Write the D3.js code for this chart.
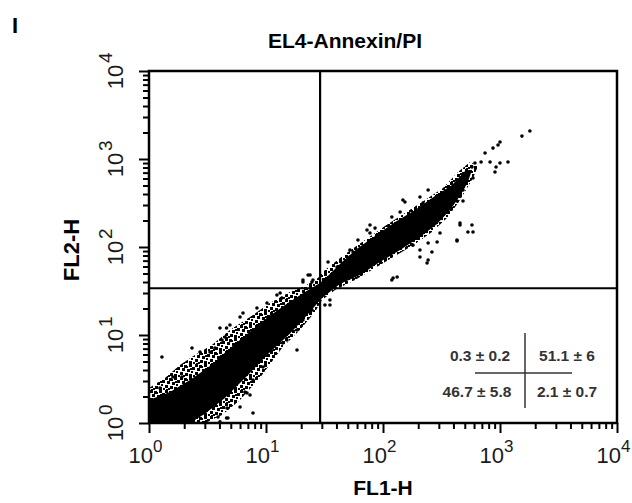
<!DOCTYPE html>
<html>
<head>
<meta charset="utf-8">
<script src="https://cdn.jsdelivr.net/npm/d3@7"></script>
<style>
  body { margin: 0; background: #fff; }
  svg { display: block; }
</style>
</head>
<body>
<div id="chart"></div>
<script>
// log axis decades (10^0 .. 10^4)
const decades = [0, 1, 2, 3, 4];

// quadrant gates
const gateFL1 = 29;
const gateFL2 = 34;

// quadrant statistics (UL, UR, LL, LR)
const quadMean = ["0.3", "51.1", "46.7", "2.1"];
const quadSD = ["0.2", "6", "5.8", "0.7"];

// outline of the whole event cloud (FL1-H, FL2-H)
const envelopeFL1 = [1, 3.01, 4.21, 6.00, 9.25, 13.7, 19.5, 26.2, 30.1, 38.9, 57.6, 85.5, 127, 188, 262, 352, 438, 512, 588, 649,
  555, 438, 326, 229, 154, 104, 70.2, 50.2, 38.9, 31.9, 27.8, 21.5, 16.0, 10.8, 7.30, 4.92, 3.45, 2.47, 1.84, 1.37, 1];
const envelopeFL2 = [1, 1, 1.23, 1.82, 3.51, 7.11, 11.4, 18.3, 25.0, 32.5, 42.2, 57.7, 79.0, 108, 148, 214, 316, 445, 608, 832,
  925, 711, 468, 342, 243, 173, 120, 87.7, 67.6, 54.8, 44.4, 36.0, 30.8, 23.1, 16.0, 11.4, 7.70, 5.93, 4.56, 3.25, 2.50];

// outline of the dense core
const coreFL1 = [1, 2.24, 3.01, 4.46, 7.02, 10.4, 16.0, 22.9, 30.1, 42.9, 63.6, 94.2, 140, 207, 290, 374, 455, 532, 576,
  512, 389, 278, 188, 127, 85.5, 61.1, 44.6, 35.2, 29.0, 21.5, 15.4, 10.4, 7.02, 4.73, 3.32, 2.24, 1.51, 1];
const coreFL2 = [1, 1, 1.27, 1.92, 3.51, 6.08, 10.3, 17.3, 26.3, 38.0, 48.1, 67.6, 92.4, 130, 183, 263, 380, 548, 750,
  750, 507, 380, 263, 192, 133, 97.5, 67.6, 49.3, 39.0, 30.8, 23.1, 16.0, 10.5, 6.76, 4.44, 3.08, 2.25, 1.82];

const events = [
  [1.29, 5.62], [2.33, 7.11], [2.73, 6.41], [3.66, 7.11], [1.60, 3.33], [4.46, 9.49], [6.88, 2.19], [7.30, 2.08],
  [4.73, 1.14], [4.04, 1.03], [4.6, 1.14], [4.04, 12.0], [4.6, 12.0], [6.00, 16.0], [6.36, 17.8], [9.43, 4.33],
  [6.6, 2.25], [4.64, 1.48], [3.89, 1.17], [13.2, 30.0], [13.7, 26.3], [20.7, 42.2], [23.8, 48.1], [35.2, 25.0],
  [35.2, 21.9], [15.1, 8.77], [18.4, 6.76], [1.91, 3.33], [1.24, 2.50], [6.00, 1.52], [7.74, 1.30], [3.32, 6.41],
  [4.21, 8.77], [4.92, 13.0], [8.37, 20.3], [10.2, 23.1], [12.4, 28.5], [7.74, 3.08], [10.8, 6.76], [13.9, 8.11],
  [18.4, 11.4], [20.7, 14.8], [24.7, 19.2],
  [22.9, 48.1], [20.7, 40.0], [24.7, 40.0], [25.2, 42.2], [33.9, 67.6], [40.5, 59.3], [52.2, 76.9], [55.4, 71.1],
  [45.5, 52.0], [31.9, 21.9],
  [54.3, 52.0], [59.9, 76.9], [52.2, 92.4], [55.4, 87.7], [61.1, 120], [73.0, 156], [77.4, 178], [85.5, 164],
  [77.4, 144], [100, 148], [119, 219], [140, 250], [154, 325], [148, 342], [207, 370], [243, 445], [220, 316],
  [122, 44.4], [132, 45.6], [119, 42.2], [207, 76.9], [243, 71.1], [238, 65.8], [207, 92.4], [180, 105],
  [243, 111], [290, 114], [262, 87.7], [307, 144], [429, 120], [455, 187], [455, 178], [532, 148], [588, 148],
  [576, 178], [429, 117],
  [1800, 2080], [1540, 1820], [1000, 1560], [962, 1440], [871, 1330], [745, 1170], [689, 925], [822, 925],
  [1000, 901], [1170, 925], [925, 811], [906, 711], [611, 901], [576, 811], [522, 693], [588, 608], [483, 445],
  [483, 333], [429, 333]
];

const width = 632, height = 503;
const margin = {top: 71, right: 15, bottom: 80, left: 149};
const font = "'Liberation Sans', Arial, sans-serif";

const x = d3.scaleLog().domain([1, 1e4]).range([margin.left, width - margin.right]);
const y = d3.scaleLog().domain([1, 1e4]).range([height - margin.bottom, margin.top]);

const svg = d3.select("#chart").append("svg")
    .attr("width", width)
    .attr("height", height);

const defs = svg.append("defs");
defs.append("clipPath").attr("id", "plotClip")
  .append("rect")
    .attr("x", x.range()[0]).attr("y", y.range()[1])
    .attr("width", x.range()[1] - x.range()[0])
    .attr("height", y.range()[0] - y.range()[1]);

// speckled texture for the loose part of the cloud
const speckle = defs.append("pattern")
    .attr("id", "speckle")
    .attr("width", 15).attr("height", 13)
    .attr("patternUnits", "userSpaceOnUse");
[[0, 0, 3], [4, 1, 3], [9, 0, 3], [12, 3, 3], [2, 4, 3], [7, 5, 3], [11, 7, 2], [0, 8, 3], [5, 9, 3],
 [9, 10, 3], [13, 11, 2], [3, 11, 2], [6, 2, 2], [10, 4, 2], [1, 12, 2]].forEach(([a, b, s]) => {
  speckle.append("rect").attr("x", a).attr("y", b).attr("width", s).attr("height", s).attr("fill", "#000");
});

const outline = d3.line()
    .x(d => x(d[0]))
    .y(d => y(d[1]))
    .curve(d3.curveLinearClosed);

const cloud = svg.append("g").attr("clip-path", "url(#plotClip)");

cloud.append("path")
    .attr("d", outline(d3.zip(envelopeFL1, envelopeFL2)))
    .attr("fill", "url(#speckle)");

cloud.append("path")
    .attr("d", outline(d3.zip(coreFL1, coreFL2)))
    .attr("fill", "#000");

cloud.selectAll("circle")
  .data(events)
  .enter().append("circle")
    .attr("cx", d => x(d[0]))
    .attr("cy", d => y(d[1]))
    .attr("r", 1.8)
    .attr("fill", "#000");

// ticks
const minorTicks = [];
decades.slice(0, -1).forEach(e => {
  for (let m = 2; m <= 9; m++) minorTicks.push(m * Math.pow(10, e));
});
const majorTicks = decades.map(e => Math.pow(10, e));

function styleAxis(g) {
  g.select(".domain").remove();
  g.selectAll(".tick line").attr("stroke", "#000").attr("stroke-width", 2);
}

const yPos = height - margin.bottom;
svg.append("g").attr("transform", `translate(0,${yPos})`)
    .call(d3.axisBottom(x).tickValues(minorTicks).tickSize(6).tickFormat(""))
    .call(styleAxis);
svg.append("g").attr("transform", `translate(0,${yPos})`)
    .call(d3.axisBottom(x).tickValues(majorTicks).tickSize(10).tickFormat(""))
    .call(styleAxis);
svg.append("g").attr("transform", `translate(${margin.left},0)`)
    .call(d3.axisLeft(y).tickValues(minorTicks).tickSize(6).tickFormat(""))
    .call(styleAxis);
svg.append("g").attr("transform", `translate(${margin.left},0)`)
    .call(d3.axisLeft(y).tickValues(majorTicks).tickSize(10).tickFormat(""))
    .call(styleAxis);

// tick labels 10^n
const xLab = svg.append("g").attr("font-family", font).attr("fill", "#1a1a1a");
decades.forEach(e => {
  const px = x(Math.pow(10, e));
  xLab.append("text").attr("x", px + 4).attr("y", yPos + 40)
      .attr("text-anchor", "end").attr("font-size", 22).text("10");
  xLab.append("text").attr("x", px + 4).attr("y", yPos + 29)
      .attr("font-size", 17).text(e);
});

decades.forEach(e => {
  const g = svg.append("g")
      .attr("transform", `translate(${margin.left - 26},${y(Math.pow(10, e))}) rotate(-90)`)
      .attr("font-family", font).attr("fill", "#1a1a1a");
  g.append("text").attr("x", -6).attr("y", 0)
      .attr("text-anchor", "middle").attr("font-size", 22).text("10");
  g.append("text").attr("x", 8).attr("y", -11)
      .attr("font-size", 19).text(e);
});

// quadrant gate lines
svg.append("line")
    .attr("x1", x(gateFL1)).attr("x2", x(gateFL1))
    .attr("y1", y.range()[1]).attr("y2", y.range()[0])
    .attr("stroke", "#000").attr("stroke-width", 2.2);
svg.append("line")
    .attr("x1", x.range()[0]).attr("x2", x.range()[1])
    .attr("y1", y(gateFL2)).attr("y2", y(gateFL2))
    .attr("stroke", "#000").attr("stroke-width", 2.2);

// frame
svg.append("rect")
    .attr("x", x.range()[0]).attr("y", y.range()[1])
    .attr("width", x.range()[1] - x.range()[0])
    .attr("height", y.range()[0] - y.range()[1])
    .attr("fill", "none").attr("stroke", "#000").attr("stroke-width", 2.5);

// quadrant percentage table
const tx = x.range()[1] - 92, ty = y.range()[0] - 50;
const table = svg.append("g").attr("font-family", font).attr("font-weight", "bold")
    .attr("font-size", 15.5).attr("fill", "#333").attr("text-anchor", "middle");
table.append("line").attr("x1", tx).attr("x2", tx).attr("y1", ty - 40).attr("y2", ty + 35)
    .attr("stroke", "#333").attr("stroke-width", 1.5);
table.append("line").attr("x1", tx - 50).attr("x2", tx + 47).attr("y1", ty).attr("y2", ty)
    .attr("stroke", "#333").attr("stroke-width", 1.5);
const cellPos = [[-45, -12], [42, -12], [-48, 24], [42, 24]];
quadMean.forEach((m, i) => {
  table.append("text")
      .attr("x", tx + cellPos[i][0]).attr("y", ty + cellPos[i][1])
      .text(`${m} ± ${quadSD[i]}`);
});

// titles
svg.append("text").attr("x", 12).attr("y", 33)
    .attr("font-family", font).attr("font-weight", "bold").attr("font-size", 22).text("I");
svg.append("text").attr("x", 345).attr("y", 48)
    .attr("text-anchor", "middle")
    .attr("font-family", font).attr("font-weight", "bold").attr("font-size", 21).text("EL4-Annexin/PI");
svg.append("text").attr("x", 383).attr("y", 495)
    .attr("text-anchor", "middle")
    .attr("font-family", font).attr("font-weight", "bold").attr("font-size", 21).text("FL1-H");
svg.append("text")
    .attr("transform", `translate(79,250) rotate(-90)`)
    .attr("text-anchor", "middle")
    .attr("font-family", font).attr("font-weight", "bold").attr("font-size", 22).text("FL2-H");
</script>
</body>
</html>
